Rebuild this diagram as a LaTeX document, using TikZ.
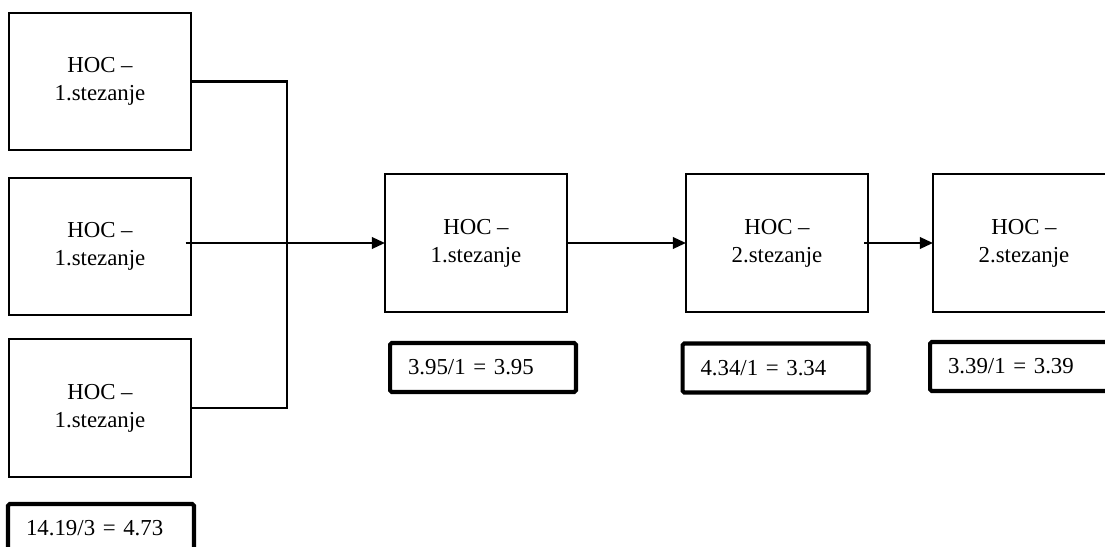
\documentclass[tikz,border=0pt]{standalone}
\usepackage{fontspec}
\setmainfont{Liberation Serif}
\usetikzlibrary{arrows.meta}
\begin{document}
\begin{tikzpicture}[x=0.02cm,y=-0.02cm,
  hocbox/.style={draw,line width=0.9pt,minimum width=3.64cm,minimum height=2.75cm,
    inner sep=0pt,outer sep=0pt,align=center,font=\fontsize{13}{16}\selectfont},
  valbox/.style={draw,line width=2.3pt,rounded corners=1pt,minimum height=0.98cm,
    text width=3.0cm,inner xsep=0.36cm,inner ysep=0pt,outer sep=0pt,align=left,
    font=\fontsize{13}{16}\selectfont},
  conn/.style={line width=1.4pt},
  arr/.style={conn,-{Triangle[length=7.5pt,width=6.5pt]}}]
\useasboundingbox (0,0) rectangle (1105,547);
\clip (0,0) rectangle (1105,547);
\node[hocbox] (b1) at (100,81.5) {HOC –\\1.stezanje};
\node[hocbox] (b2) at (100,246.5) {HOC –\\1.stezanje};
\node[hocbox] (b3) at (100,408) {HOC –\\1.stezanje};
\node[hocbox] (m1) at (476,243) {HOC –\\1.stezanje};
\node[hocbox] (m2) at (777,243) {HOC –\\2.stezanje};
\node[hocbox] (m3) at (1024,243) {HOC –\\2.stezanje};
\node[valbox] (v0) at (101,528.5) {14.19/3 = 4.73};
\node[valbox] (v1) at (483,367.5) {3.95/1 = 3.95};
\node[valbox] (v2) at (775.5,368) {4.34/1 = 3.34};
\node[valbox] (v3) at (1023,366.5) {3.39/1 = 3.39};
\coordinate (j1) at (287,81.5);
\coordinate (j3) at (287,408);
\draw[conn] (b1.east) -- (j1) -- (j3) -- (b3.east);
\draw[arr] ([xshift=-3pt]b2.east |- m1.west) -- (m1.west);
\draw[arr] (m1.east) -- (m1.east -| m2.west);
\draw[arr] ([xshift=-2pt]m2.east) -- (m2.east -| m3.west);
\end{tikzpicture}
\end{document}
